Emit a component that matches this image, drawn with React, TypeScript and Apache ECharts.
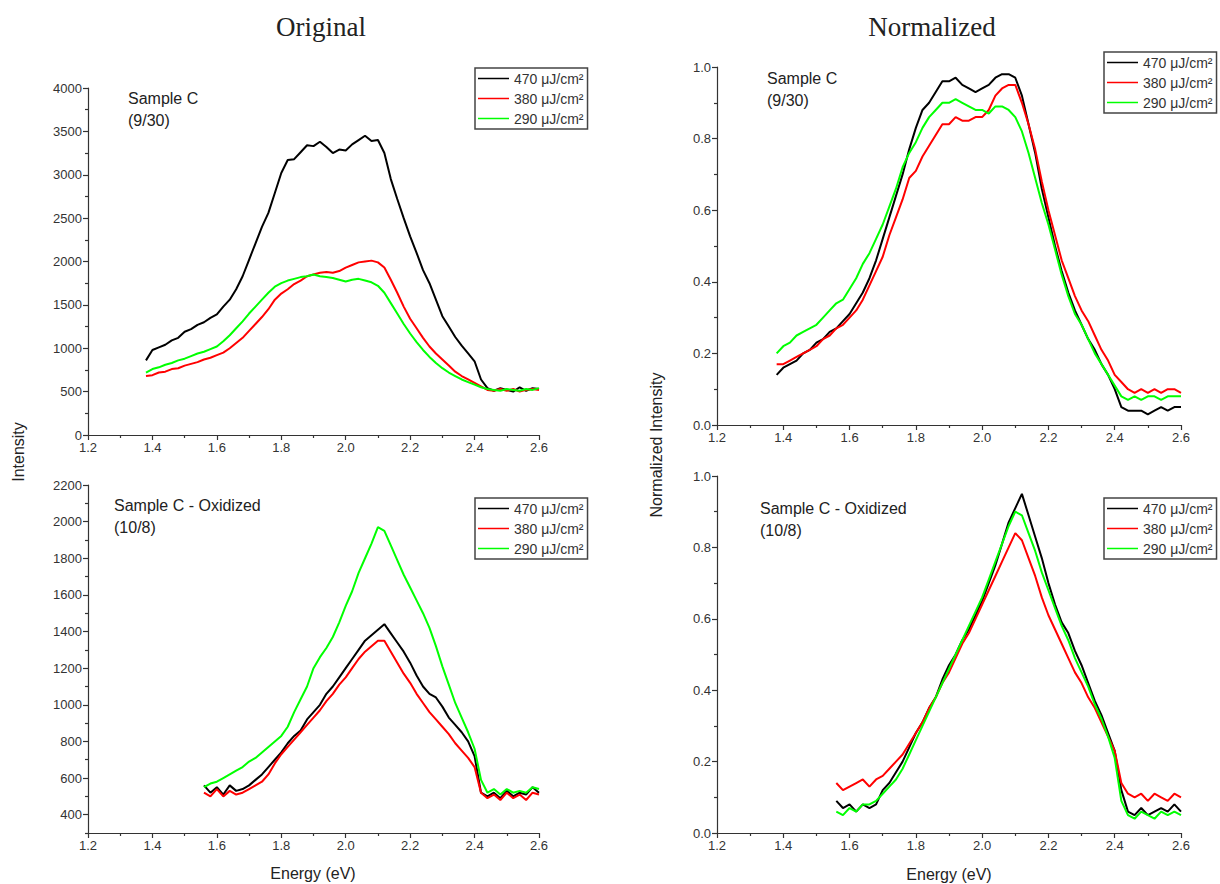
import React, { useEffect, useRef } from "react";
import * as echarts from "echarts";

// Energy grids (eV)
const topEnergy = [1.38,1.40,1.42,1.44,1.46,1.48,1.50,1.52,1.54,1.56,1.58,1.60,1.62,1.64,1.66,1.68,1.70,1.72,1.74,1.76,1.78,1.80,1.82,1.84,1.86,1.88,1.90,1.92,1.94,1.96,1.98,2.00,2.02,2.04,2.06,2.08,2.10,2.12,2.14,2.16,2.18,2.20,2.22,2.24,2.26,2.28,2.30,2.32,2.34,2.36,2.38,2.40,2.42,2.44,2.46,2.48,2.50,2.52,2.54,2.56,2.58,2.60];
const bottomEnergy = [1.56,1.58,1.60,1.62,1.64,1.66,1.68,1.70,1.72,1.74,1.76,1.78,1.80,1.82,1.84,1.86,1.88,1.90,1.92,1.94,1.96,1.98,2.00,2.02,2.04,2.06,2.08,2.10,2.12,2.14,2.16,2.18,2.20,2.22,2.24,2.26,2.28,2.30,2.32,2.34,2.36,2.38,2.40,2.42,2.44,2.46,2.48,2.50,2.52,2.54,2.56,2.58,2.60];

const seriesNames = ["470 μJ/cm²", "380 μJ/cm²", "290 μJ/cm²"];
const seriesColors = ["#000000", "#ff0000", "#00ff00"];

// Original, Sample C (9/30)
const origC470 = [860,980,1010,1040,1090,1120,1190,1220,1270,1300,1350,1390,1480,1560,1680,1830,2020,2210,2400,2560,2790,3020,3170,3180,3260,3340,3330,3380,3320,3250,3290,3280,3350,3400,3450,3390,3400,3250,2950,2720,2500,2290,2100,1900,1750,1560,1370,1250,1130,1030,940,850,640,540,510,540,520,500,550,510,540,530];
const origC380 = [680,690,720,730,760,770,800,820,840,870,890,920,950,1000,1060,1120,1200,1280,1360,1450,1560,1630,1680,1740,1780,1830,1850,1870,1880,1870,1890,1930,1960,1990,2000,2010,1990,1930,1790,1640,1480,1340,1230,1120,1020,940,870,800,730,680,640,600,560,520,510,530,510,530,500,520,530,520];
const origC290 = [720,760,780,810,830,860,880,910,940,960,990,1020,1080,1150,1230,1310,1400,1480,1560,1640,1710,1750,1780,1800,1820,1830,1850,1830,1820,1810,1790,1770,1790,1800,1780,1760,1720,1640,1520,1400,1280,1170,1070,980,900,830,770,720,680,640,610,580,550,530,520,510,530,520,510,530,520,540];

// Original, Sample C - Oxidized (10/8)
const origOx470 = [560,520,550,510,560,530,540,560,590,620,660,700,740,790,830,860,920,960,1000,1060,1100,1150,1200,1250,1300,1350,1380,1410,1440,1390,1340,1290,1230,1160,1100,1060,1040,990,930,890,850,800,720,520,500,520,490,530,500,520,510,550,520];
const origOx380 = [520,500,540,500,530,510,520,540,560,580,620,680,730,770,810,850,890,930,970,1020,1060,1110,1150,1200,1250,1290,1320,1350,1350,1290,1230,1170,1120,1060,1010,960,920,880,840,790,750,710,660,520,490,510,480,520,490,510,480,520,510];
const origOx290 = [550,570,580,600,620,640,660,690,710,740,770,800,830,880,960,1030,1100,1200,1260,1310,1370,1450,1540,1620,1720,1800,1880,1970,1950,1870,1790,1710,1640,1570,1500,1420,1320,1210,1110,1010,930,850,760,590,520,540,510,540,520,530,520,550,540];

// Normalized, Sample C (9/30)
const normC470 = [0.14,0.16,0.17,0.18,0.20,0.21,0.23,0.24,0.26,0.27,0.29,0.31,0.34,0.37,0.41,0.46,0.52,0.58,0.64,0.70,0.77,0.83,0.88,0.90,0.93,0.96,0.96,0.97,0.95,0.94,0.93,0.94,0.95,0.97,0.98,0.98,0.97,0.92,0.84,0.76,0.66,0.58,0.50,0.43,0.37,0.32,0.28,0.24,0.21,0.17,0.14,0.10,0.05,0.04,0.04,0.04,0.03,0.04,0.05,0.04,0.05,0.05];
const normC380 = [0.17,0.17,0.18,0.19,0.20,0.21,0.22,0.24,0.25,0.27,0.28,0.30,0.32,0.35,0.39,0.43,0.47,0.53,0.58,0.63,0.69,0.71,0.75,0.78,0.81,0.84,0.84,0.86,0.85,0.85,0.86,0.86,0.88,0.92,0.94,0.95,0.95,0.90,0.84,0.77,0.68,0.60,0.53,0.46,0.41,0.36,0.32,0.29,0.25,0.21,0.18,0.14,0.12,0.10,0.09,0.10,0.09,0.10,0.09,0.10,0.10,0.09];
const normC290 = [0.20,0.22,0.23,0.25,0.26,0.27,0.28,0.30,0.32,0.34,0.35,0.38,0.41,0.45,0.48,0.52,0.56,0.61,0.66,0.72,0.76,0.79,0.83,0.86,0.88,0.90,0.90,0.91,0.90,0.89,0.88,0.88,0.87,0.89,0.89,0.88,0.86,0.82,0.76,0.69,0.62,0.56,0.49,0.42,0.36,0.31,0.28,0.24,0.20,0.17,0.14,0.11,0.08,0.07,0.08,0.07,0.08,0.08,0.07,0.08,0.08,0.08];

// Normalized, Sample C - Oxidized (10/8)
const normOx470 = [0.09,0.07,0.08,0.06,0.08,0.07,0.08,0.12,0.14,0.17,0.20,0.24,0.28,0.31,0.35,0.38,0.43,0.47,0.50,0.54,0.57,0.61,0.65,0.70,0.75,0.81,0.87,0.91,0.95,0.89,0.83,0.77,0.70,0.64,0.59,0.56,0.51,0.47,0.42,0.37,0.33,0.28,0.23,0.12,0.06,0.05,0.07,0.05,0.06,0.07,0.06,0.08,0.06];
const normOx380 = [0.14,0.12,0.13,0.14,0.15,0.13,0.15,0.16,0.18,0.20,0.22,0.25,0.28,0.31,0.35,0.38,0.42,0.45,0.49,0.53,0.56,0.60,0.64,0.68,0.72,0.76,0.80,0.84,0.82,0.77,0.72,0.66,0.61,0.57,0.53,0.49,0.45,0.42,0.38,0.35,0.31,0.27,0.23,0.14,0.11,0.10,0.11,0.09,0.11,0.10,0.09,0.11,0.10];
const normOx290 = [0.06,0.05,0.07,0.06,0.08,0.08,0.09,0.11,0.13,0.15,0.18,0.22,0.26,0.30,0.34,0.38,0.42,0.46,0.50,0.54,0.58,0.62,0.66,0.71,0.76,0.81,0.86,0.90,0.89,0.84,0.79,0.73,0.68,0.63,0.58,0.54,0.49,0.45,0.41,0.36,0.32,0.27,0.21,0.09,0.05,0.04,0.06,0.05,0.04,0.06,0.05,0.06,0.05];

const oxMajorTicks = [400, 600, 800, 1000, 1200, 1400, 1600, 1800, 2000, 2200];
const oxMinorTicks = [300, 500, 700, 900, 1100, 1300, 1500, 1700, 1900, 2100];

const FONT = '"Liberation Sans", Arial, sans-serif';
const SERIF = '"Liberation Serif", "Times New Roman", serif';

export default function App() {
  const ref = useRef<HTMLDivElement>(null);

  useEffect(() => {
    document.body.style.margin = "0";
    const chart = echarts.init(ref.current as HTMLDivElement, null, { renderer: "svg" });

    const axisLineStyle = { color: "#333", width: 1.2 };
    const labelStyle = { color: "#333", fontSize: 13, fontFamily: FONT, margin: 6 };
    const plain = (v: number) => String(v);
    const oneDec = (v: number) => v.toFixed(1);

    const grids = [
      { left: 88, top: 88, width: 451, height: 347 },
      { left: 88, top: 485, width: 451, height: 348 },
      { left: 717, top: 67, width: 464, height: 358 },
      { left: 717, top: 476, width: 464, height: 357 },
    ];

    const xAxes = grids.map((_, gi) => ({
      type: "value",
      gridIndex: gi,
      min: 1.2,
      max: 2.6,
      interval: 0.2,
      axisLine: { show: true, onZero: false, lineStyle: axisLineStyle },
      axisTick: { show: true, length: 5, lineStyle: axisLineStyle },
      minorTick: { show: true, splitNumber: 2, length: 3, lineStyle: axisLineStyle },
      splitLine: { show: false },
      axisLabel: { ...labelStyle, formatter: oneDec },
    }));

    const yBase = {
      type: "value",
      position: "left",
      axisLine: { show: true, onZero: false, lineStyle: axisLineStyle },
      axisTick: { show: true, length: 5, lineStyle: axisLineStyle },
      minorTick: { show: true, splitNumber: 2, length: 3, lineStyle: axisLineStyle },
      splitLine: { show: false },
    };

    const yAxes = [
      { ...yBase, gridIndex: 0, min: 0, max: 4000, interval: 500, axisLabel: { ...labelStyle, formatter: plain } },
      {
        ...yBase,
        gridIndex: 1,
        min: 300,
        max: 2200,
        minorTick: { show: false },
        axisTick: { show: true, length: 5, lineStyle: axisLineStyle, customValues: oxMajorTicks },
        axisLabel: { ...labelStyle, customValues: oxMajorTicks, formatter: plain },
      },
      { ...yBase, gridIndex: 2, min: 0, max: 1, interval: 0.2, axisLabel: { ...labelStyle, formatter: oneDec } },
      { ...yBase, gridIndex: 3, min: 0, max: 1, interval: 0.2, axisLabel: { ...labelStyle, formatter: oneDec } },
      {
        type: "value",
        position: "left",
        gridIndex: 1,
        min: 300,
        max: 2200,
        axisLine: { show: false },
        splitLine: { show: false },
        minorTick: { show: false },
        axisTick: { show: true, length: 3, lineStyle: axisLineStyle, customValues: oxMinorTicks },
        axisLabel: { show: false, customValues: oxMinorTicks },
      },
    ];

    const panels = [
      { grid: 0, yAxis: 0, x: topEnergy, ys: [origC470, origC380, origC290] },
      { grid: 1, yAxis: 1, x: bottomEnergy, ys: [origOx470, origOx380, origOx290] },
      { grid: 2, yAxis: 2, x: topEnergy, ys: [normC470, normC380, normC290] },
      { grid: 3, yAxis: 3, x: bottomEnergy, ys: [normOx470, normOx380, normOx290] },
    ];

    const series: any[] = [];
    panels.forEach((p) => {
      p.ys.forEach((arr, si) => {
        series.push({
          type: "line",
          name: seriesNames[si],
          xAxisIndex: p.grid,
          yAxisIndex: p.yAxis,
          data: p.x.map((e, i) => [e, arr[i]]),
          symbol: "none",
          showSymbol: false,
          lineStyle: { color: seriesColors[si], width: 2 },
          itemStyle: { color: seriesColors[si] },
          z: 2 + si,
        });
      });
    });

    const legendAt = (left: number, top: number) => ({
      left,
      top,
      orient: "vertical",
      data: seriesNames.map((n) => ({ name: n, icon: "rect" })),
      selectedMode: false,
      itemWidth: 31,
      itemHeight: 1.5,
      itemGap: 5,
      borderColor: "#444",
      borderWidth: 1.5,
      padding: [3, 4, 3, 3],
      backgroundColor: "#fff",
      textStyle: { fontSize: 14, color: "#333", fontFamily: FONT, lineHeight: 15, padding: [0, 0, 0, 0] },
    });

    const textEl = (x: number, y: number, text: string, font: string, extra: any = {}) => ({
      type: "text",
      x,
      y,
      silent: true,
      rotation: extra.rotation || 0,
      style: { text, font, fill: "#222", lineHeight: 22, textAlign: extra.align || "left", textVerticalAlign: extra.valign || "top" },
    });

    const option = {
      animation: false,
      backgroundColor: "#fff",
      grid: grids,
      xAxis: xAxes,
      yAxis: yAxes,
      series,
      legend: [legendAt(475, 68), legendAt(475, 498), legendAt(1104, 52), legendAt(1104, 498)],
      graphic: [
        textEl(321, 27, "Original", `27px ${SERIF}`, { align: "center", valign: "middle" }),
        textEl(932, 27, "Normalized", `27px ${SERIF}`, { align: "center", valign: "middle" }),
        textEl(128, 87, "Sample C\n(9/30)", `16px ${FONT}`),
        textEl(114, 494, "Sample C - Oxidized\n(10/8)", `16px ${FONT}`),
        textEl(767, 67, "Sample C\n(9/30)", `16px ${FONT}`),
        textEl(760, 497, "Sample C - Oxidized\n(10/8)", `16px ${FONT}`),
        textEl(18, 452, "Intensity", `16px ${FONT}`, { align: "center", valign: "middle", rotation: Math.PI / 2 }),
        textEl(656, 445, "Normalized Intensity", `16px ${FONT}`, { align: "center", valign: "middle", rotation: Math.PI / 2 }),
        textEl(313, 873, "Energy (eV)", `16px ${FONT}`, { align: "center", valign: "middle" }),
        textEl(949, 874, "Energy (eV)", `16px ${FONT}`, { align: "center", valign: "middle" }),
      ],
    };

    chart.setOption(option as any);
    return () => chart.dispose();
  }, []);

  return <div ref={ref} style={{ width: 1220, height: 884 }} />;
}
